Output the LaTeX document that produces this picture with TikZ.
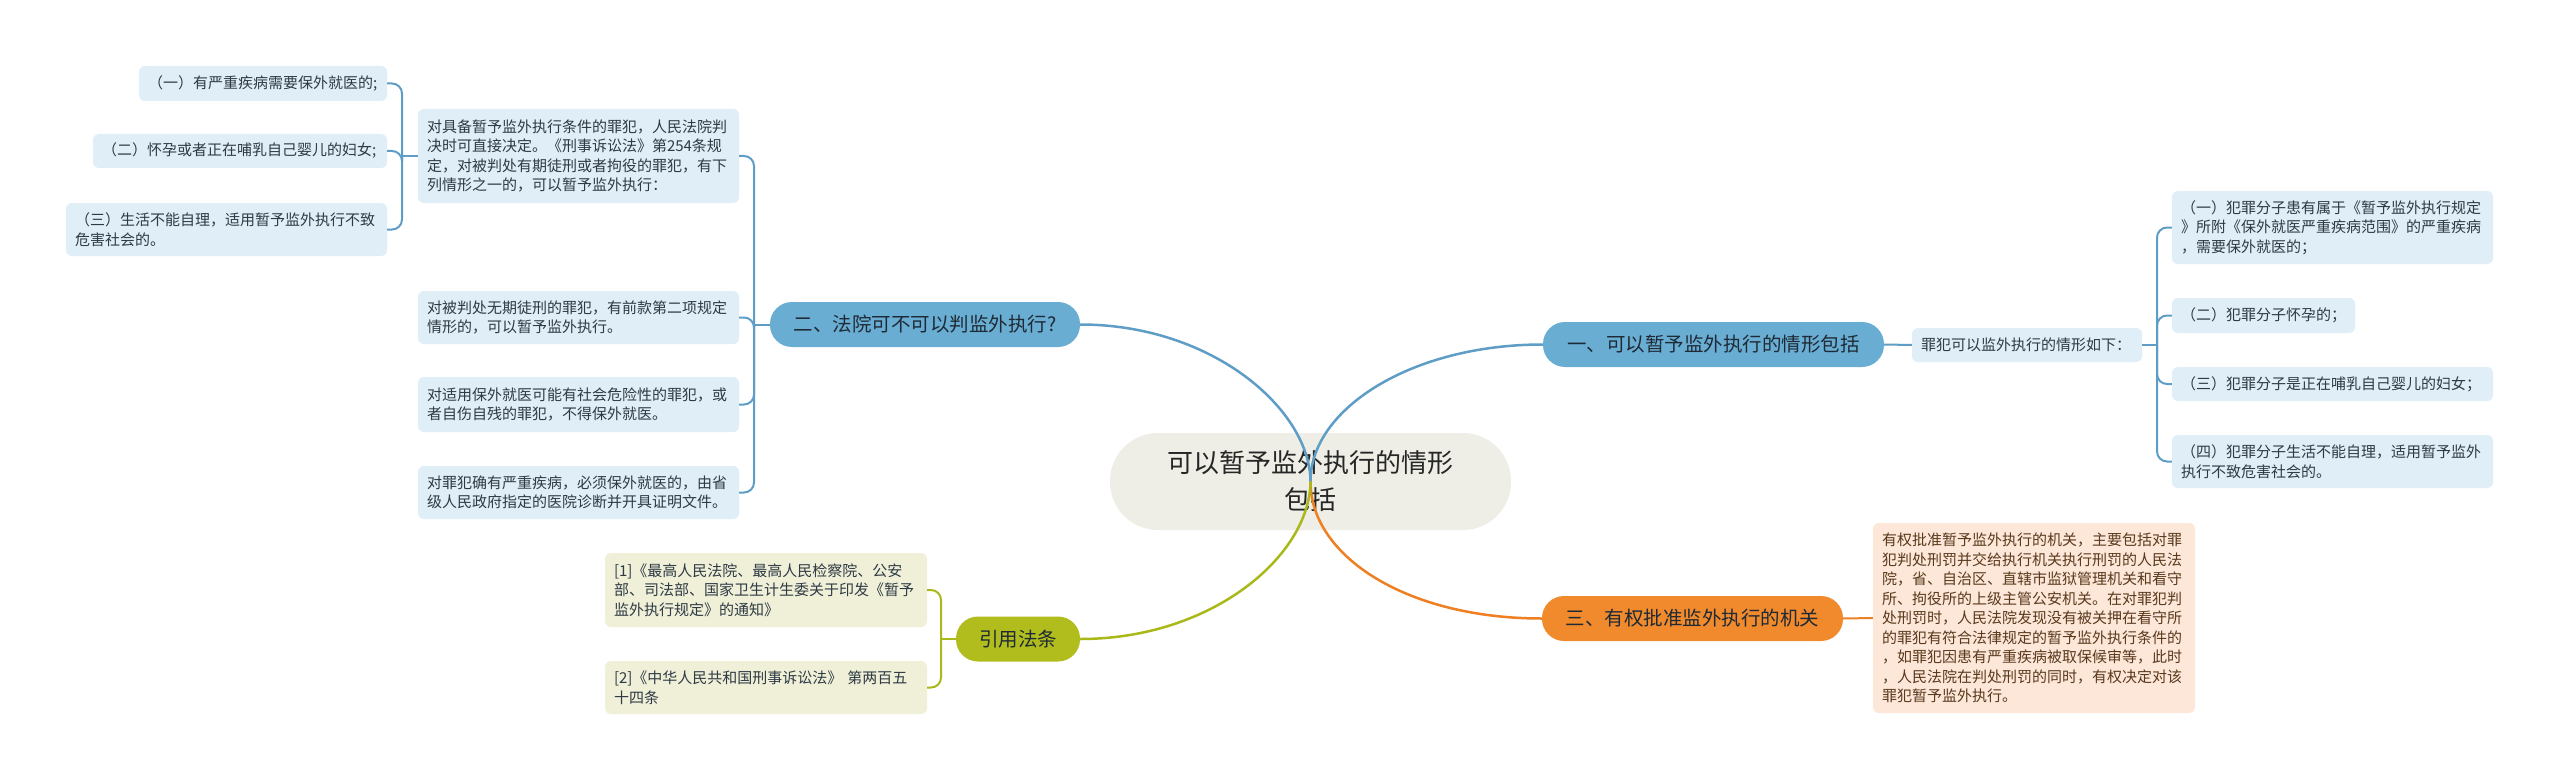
\documentclass[tikz,border=0pt]{standalone}
\usepackage{fontspec}
\setmainfont{Noto Sans CJK SC}
\definecolor{leafblue}{HTML}{E0EEF7}
\definecolor{lineblue}{HTML}{5E9DC6}
\definecolor{branchblue}{HTML}{6AADD3}
\definecolor{orangefill}{HTML}{F08A2C}
\definecolor{orangeline}{HTML}{EE7F23}
\definecolor{orangeleaf}{HTML}{FCE7D9}
\definecolor{greenfill}{HTML}{B1BD1C}
\definecolor{greenline}{HTML}{A9B91A}
\definecolor{greenleaf}{HTML}{EFF0D7}
\definecolor{centerfill}{HTML}{EEEEE6}
\definecolor{leaftext}{HTML}{2E3A45}
\definecolor{brtext}{HTML}{1E2A35}
\definecolor{ortext}{HTML}{5A391C}
\tikzset{
  leafbox/.style={rounded corners=6pt, inner xsep=9pt, inner ysep=0pt, align=left,
    font=\fontsize{15}{19.5}\selectfont},
  bluebox/.style={leafbox, fill=leafblue, text=leaftext},
  orbox/.style={leafbox, fill=orangeleaf, text=ortext},
  grbox/.style={leafbox, fill=greenleaf, text=leaftext},
  branchbox/.style={rounded corners=22pt, inner sep=0pt, minimum height=45pt, align=center,
    text=brtext, font=\fontsize{19.5}{24}\selectfont},
  mainline/.style={line width=2.5pt},
  subline/.style={line width=2pt, rounded corners=10pt},
}
\begin{document}
\begin{tikzpicture}[x=1pt,y=-1pt]
\useasboundingbox (0,0) rectangle (2560,781);
\fill[white] (0,0) rectangle (2560,781);

% central
\node[fill=centerfill, rounded corners=48pt, minimum width=401pt, minimum height=97pt,
  inner sep=0pt, align=center, text=black!85, font=\fontsize{26}{37}\selectfont]
  (c) at (1310.5,481.5) {可以暂予监外执行的情形\\包括};

% branches
\node[branchbox, fill=branchblue, minimum width=341pt] (b1) at (1713.5,344.5) {一、可以暂予监外执行的情形包括};
\node[branchbox, fill=branchblue, minimum width=310pt] (b2) at (925,324.5) {二、法院可不可以判监外执行?};
\node[branchbox, fill=orangefill, minimum width=301pt] (b3) at (1692.5,618.5) {三、有权批准监外执行的机关};
\node[branchbox, fill=greenfill, minimum width=124pt] (g) at (1018,639) {引用法条};

% right side leaves
\node[bluebox, text width=212pt, minimum height=34pt] (r0) at (2027,345) {罪犯可以监外执行的情形如下：};
\node[bluebox, text width=303pt, minimum height=73pt] (r1) at (2332.5,227.5) {（一）犯罪分子患有属于《暂予监外执行规定\\》所附《保外就医严重疾病范围》的严重疾病\\，需要保外就医的；};
\node[bluebox, text width=165pt, minimum height=35pt] (r2) at (2263.5,315.5) {（二）犯罪分子怀孕的；};
\node[bluebox, text width=303pt, minimum height=34pt] (r3) at (2332.5,384) {（三）犯罪分子是正在哺乳自己婴儿的妇女；};
\node[bluebox, text width=303pt, minimum height=53pt] (r4) at (2332.5,461.5) {（四）犯罪分子生活不能自理，适用暂予监外\\执行不致危害社会的。};

% orange leaf
\node[orbox, text width=304pt, minimum height=190pt] (o1) at (2034,618) {有权批准暂予监外执行的机关，主要包括对罪\\犯判处刑罚并交给执行机关执行刑罚的人民法\\院，省、自治区、直辖市监狱管理机关和看守\\所、拘役所的上级主管公安机关。在对罪犯判\\处刑罚时，人民法院发现没有被关押在看守所\\的罪犯有符合法律规定的暂予监外执行条件的\\，如罪犯因患有严重疾病被取保候审等，此时\\，人民法院在判处刑罚的同时，有权决定对该\\罪犯暂予监外执行。};

% left side (branch 2)
\node[bluebox, text width=303pt, minimum height=94pt] (A) at (578.5,156) {对具备暂予监外执行条件的罪犯，人民法院判\\决时可直接决定。《刑事诉讼法》第254条规\\定，对被判处有期徒刑或者拘役的罪犯，有下\\列情形之一的，可以暂予监外执行：};
\node[bluebox, text width=303pt, minimum height=53pt] (B) at (578.5,317.5) {对被判处无期徒刑的罪犯，有前款第二项规定\\情形的，可以暂予监外执行。};
\node[bluebox, text width=303pt, minimum height=55pt] (C) at (578.5,404.5) {对适用保外就医可能有社会危险性的罪犯，或\\者自伤自残的罪犯，不得保外就医。};
\node[bluebox, text width=303pt, minimum height=53pt] (D) at (578.5,492.5) {对罪犯确有严重疾病，必须保外就医的，由省\\级人民政府指定的医院诊断并开具证明文件。};

\node[bluebox, text width=230pt, minimum height=35pt] (l1) at (263,83.5) {（一）有严重疾病需要保外就医的;};
\node[bluebox, text width=276pt, minimum height=34pt] (l2) at (240,151) {（二）怀孕或者正在哺乳自己婴儿的妇女;};
\node[bluebox, text width=303pt, minimum height=53pt] (l3) at (226.5,229.5) {（三）生活不能自理，适用暂予监外执行不致\\危害社会的。};

% green leaves
\node[grbox, text width=304pt, minimum height=74pt] (f1) at (766,590) {[1]《最高人民法院、最高人民检察院、公安\\部、司法部、国家卫生计生委关于印发《暂予\\监外执行规定》的通知》};
\node[grbox, text width=304pt, minimum height=53pt] (f2) at (766,687.5) {[2]《中华人民共和国刑事诉讼法》 第两百五\\十四条};

% junctions
\coordinate (rj) at (2157,345);
\coordinate (lj) at (754,324.5);
\coordinate (aj) at (402,156);
\coordinate (gj) at (941,639);

% connectors: right
\draw[subline, lineblue] (b1.east) -- (r0.west);
\draw[subline, lineblue] (r0.east) -- (rj);
\foreach \n in {r1,r2,r3,r4} \draw[subline, lineblue] (rj) |- (\n.west);
\draw[subline, orangeline] (b3.east) -- (o1.west);
% left
\draw[subline, lineblue] (b2.west) -- (lj);
\foreach \n in {A,B,C,D} \draw[subline, lineblue] (lj) |- (\n.east);
\draw[subline, lineblue] (A.west) -- (aj);
\foreach \n in {l1,l2,l3} \draw[subline, lineblue] (aj) |- (\n.east);
\draw[subline, greenline] (g.west) -- (gj);
\foreach \n in {f1,f2} \draw[subline, greenline] (gj) |- (\n.east);

% main curves
\draw[mainline, lineblue] (c.center) .. controls (1310,410) and (1410,344.5) .. (b1.west);
\draw[mainline, lineblue] (c.center) .. controls (1310,410) and (1213,324.5) .. (b2.east);
\draw[mainline, orangeline] (c.center) .. controls (1310,555) and (1405,618.5) .. (b3.west);
\draw[mainline, greenline] (c.center) .. controls (1310,555) and (1213,639) .. (g.east);
\end{tikzpicture}
\end{document}
